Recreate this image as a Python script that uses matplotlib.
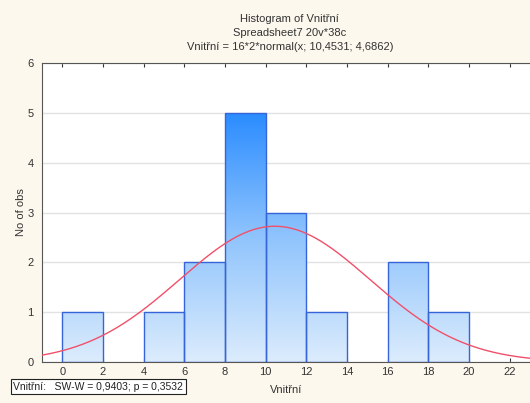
import numpy as np
import matplotlib
matplotlib.use("Agg")
import matplotlib.pyplot as plt
from matplotlib.colors import LinearSegmentedColormap
from matplotlib.patches import Rectangle

plt.rcParams['font.family'] = ['Liberation Sans', 'DejaVu Sans']

bin_edges = [0, 2, 4, 6, 8, 10, 12, 14, 16, 18, 20]
counts = [1, 0, 1, 2, 5, 3, 1, 0, 2, 1]
x_ticks = [0, 2, 4, 6, 8, 10, 12, 14, 16, 18, 20, 22]
y_ticks = [0, 1, 2, 3, 4, 5, 6]
n_obs = 16
mean = 10.4531
sd = 4.6862

fig = plt.figure(figsize=(5.30, 4.03), dpi=100)
fig.patch.set_facecolor('#fdf8ee')
ax = fig.add_axes([0.079, 0.1017, 0.921, 0.742])
ax.set_facecolor('white')
ax.set_xlim(-1, 23)
ax.set_ylim(0, 6)

cmap = LinearSegmentedColormap.from_list('g', ['#dcecfc', '#90c4fd', '#2a8cff'])
grad = np.linspace(0, 1, 256).reshape(-1, 1)
for i, c in enumerate(counts):
    if c == 0:
        continue
    x0, x1 = bin_edges[i], bin_edges[i + 1]
    im = ax.imshow(grad, cmap=cmap, aspect='auto', origin='lower',
                   extent=[x0, x1, 0, 5], vmin=0, vmax=1, zorder=2)
    r = Rectangle((x0, 0), x1 - x0, c, facecolor='none', edgecolor='#3565d8',
                  linewidth=1.0, zorder=3)
    ax.add_patch(r)
    im.set_clip_path(r)

xs = np.linspace(-1, 23, 400)
bw = bin_edges[1] - bin_edges[0]
ys = n_obs * bw * np.exp(-0.5 * ((xs - mean) / sd) ** 2) / (sd * np.sqrt(2 * np.pi))
ax.plot(xs, ys, color='#f0506a', linewidth=1.0, zorder=4)

ax.set_xlim(-1, 23)
ax.set_ylim(0, 6)
ax.set_xticks(x_ticks)
ax.set_yticks(y_ticks)
ax.yaxis.grid(True, color='#e2e2e2', linewidth=1.0, zorder=0)
ax.set_axisbelow(True)
ax.tick_params(axis='both', labelsize=8, colors='#333333', length=3, direction='in',
               top=True, right=False)
ax.tick_params(axis='y', length=0, pad=6)
for s in ['left', 'bottom', 'top']:
    ax.spines[s].set_color('#555555')
ax.spines['right'].set_visible(False)

ax.set_xlabel('Vnitřní', fontsize=8, color='#333333', labelpad=6)
ax.set_ylabel('No of obs', fontsize=8, color='#333333', labelpad=1)

fig.text(0.547, 0.952, 'Histogram of Vnitřní', ha='center', va='center', fontsize=8, color='#333333')
fig.text(0.547, 0.918, 'Spreadsheet7 20v*38c', ha='center', va='center', fontsize=8, color='#333333')
fig.text(0.547, 0.884, 'Vnitřní = 16*2*normal(x; 10,4531; 4,6862)', ha='center', va='center', fontsize=8, color='#333333')

fig.text(0.025, 0.0405, 'Vnitřní:   SW-W = 0,9403; p = 0,3532', ha='left', va='center', fontsize=7.5,
         color='#222222', bbox=dict(boxstyle='square,pad=0.25', facecolor='white', edgecolor='#222222', linewidth=0.8))

fig.savefig('out.png', dpi=100, facecolor=fig.get_facecolor())
